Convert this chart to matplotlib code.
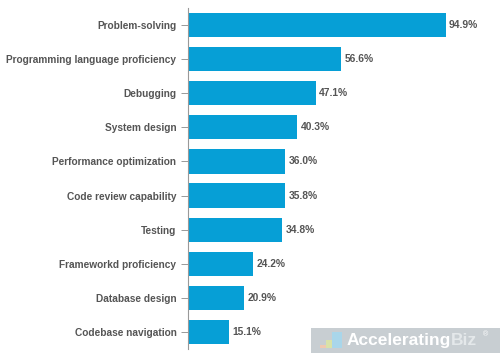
import matplotlib
matplotlib.use('Agg')
import matplotlib.pyplot as plt
from matplotlib.patches import Rectangle

plt.rcParams['font.family'] = ['Liberation Sans', 'DejaVu Sans']

skills = ['Problem-solving', 'Programming language proficiency', 'Debugging', 'System design',
          'Performance optimization', 'Code review capability', 'Testing', 'Frameworkd proficiency',
          'Database design', 'Codebase navigation']
shares = [94.9, 56.6, 47.1, 40.3, 36.0, 35.8, 34.8, 24.2, 20.9, 15.1]

W, H = 500, 358
fig = plt.figure(figsize=(W / 100, H / 100), dpi=100)
ax = fig.add_axes([187.5 / W, 1 - 349 / H, 312.5 / W, 341 / H])

# Bars run from the category axis, scale set so 94.9% ends near x=445
ypos = list(range(len(skills)))
ax.barh(ypos, shares, height=0.71, color='#069fd6')
ax.set_xlim(0, 94.9 * 312.5 / 258)
ax.set_ylim(len(skills) - 0.5, -0.5)

ax.set_yticks(ypos)
ax.set_yticklabels(skills, fontsize=7.3, fontweight='bold', color='#555555')
ax.tick_params(axis='y', length=5, width=0.7, color='#999999', pad=3)
ax.set_xticks([])
for side in ['top', 'right', 'bottom']:
    ax.spines[side].set_visible(False)
ax.spines['left'].set_color('#999999')
ax.spines['left'].set_linewidth(0.8)

for y, v in zip(ypos, shares):
    ax.annotate(f'{v:.1f}%', (v, y), xytext=(2.5, 0), textcoords='offset points',
                va='center', ha='left', fontsize=7.4, fontweight='bold', color='#555555')

# Watermark in the lower right corner
fig.add_artist(Rectangle((311 / W, 5 / H), 189 / W, 25 / H, transform=fig.transFigure,
                         facecolor='#c8ced2', edgecolor='none'))
fig.add_artist(Rectangle((332 / W, 10 / H), 10 / W, 16 / H, transform=fig.transFigure,
                         facecolor='#a9d6ea', edgecolor='none'))
fig.add_artist(Rectangle((326 / W, 10 / H), 6 / W, 8 / H, transform=fig.transFigure,
                         facecolor='#d9e2a8', edgecolor='none'))
fig.add_artist(Rectangle((320 / W, 10 / H), 6 / W, 3 / H, transform=fig.transFigure,
                         facecolor='#f0c9b0', edgecolor='none'))
fig.text(347 / W, 17.5 / H, 'Accelerating', fontsize=12.5, fontweight='bold', color='white',
         va='center', ha='left')
fig.text(451 / W, 17.5 / H, 'Biz', fontsize=12.5, fontweight='bold', color='#e4e8ea',
         va='center', ha='left')
fig.text(483 / W, 23 / H, '®', fontsize=5, color='white', va='center', ha='left')

fig.savefig('out.png', dpi=100)
